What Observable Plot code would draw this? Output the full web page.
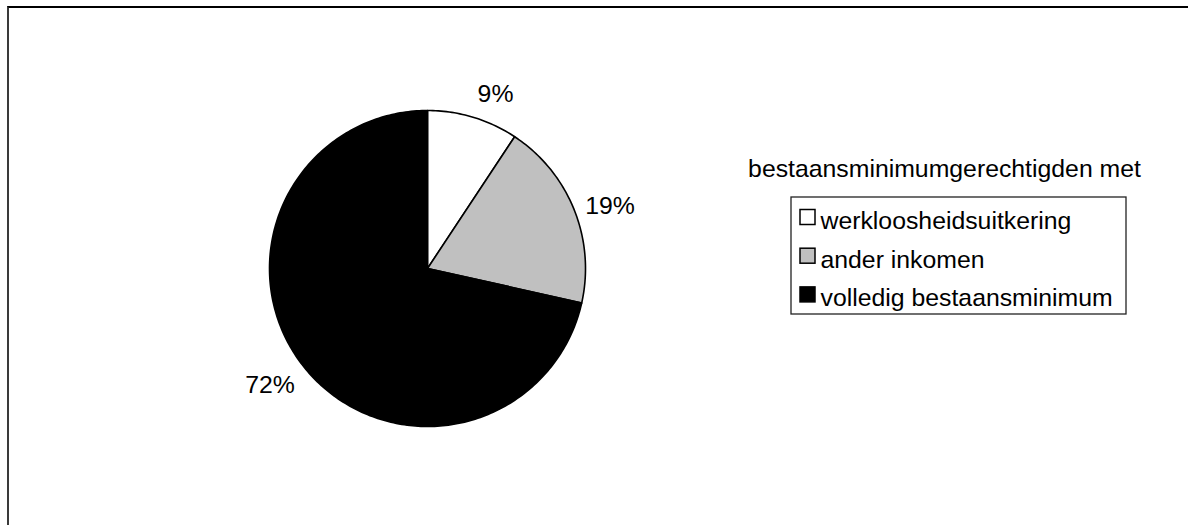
<!DOCTYPE html>
<html><head><meta charset="utf-8">
<script src="https://cdn.jsdelivr.net/npm/d3@7"></script>
<script src="https://cdn.jsdelivr.net/npm/@observablehq/plot@0.6"></script>
<style>
html,body{margin:0;padding:0;background:#fff;}
#chart{position:relative;width:1188px;height:525px;overflow:hidden;}
#chart svg{position:absolute;left:0;top:0;overflow:visible;}
#frame{position:absolute;left:7px;top:6px;right:-10px;bottom:-10px;border-top:2px solid #000;border-left:2px solid #3a3a3a;pointer-events:none;}
</style></head><body>
<div id="chart"><div id="frame"></div></div>
<script>
// ---- data ----
const categories = ["werkloosheidsuitkering", "ander inkomen", "volledig bestaansminimum"];
const shares = [9.3, 19.2, 71.5];
const shareLabels = ["9%", "19%", "72%"];
const sliceColors = ["#ffffff", "#c0c0c0", "#000000"];
const legendTitle = "bestaansminimumgerechtigden met";

// ---- layout ----
const W = 1188, H = 525;
const FONT = '"Liberation Sans", Arial, Helvetica, sans-serif';
const FS = 24.8;
const CX = 427, CY = 268, R = 158;

const rows = categories.map((c, i) => ({cat: c, share: shares[i], label: shareLabels[i], row: i}));
const arcs = d3.pie().sort(null).value(d => d.share)(rows);

// slice outlines (geometry sampled along each arc)
const slicePts = [];
arcs.forEach(p => {
  slicePts.push({cat: p.data.cat, x: CX, y: CY});
  const n = Math.max(2, Math.ceil((p.endAngle - p.startAngle) / (Math.PI / 180)));
  for (let k = 0; k <= n; k++) {
    const a = p.startAngle + (p.endAngle - p.startAngle) * k / n;
    slicePts.push({cat: p.data.cat, x: CX + R * Math.sin(a), y: CY - R * Math.cos(a)});
  }
});

// label positions (outside end, anchored by direction)
const ctx = document.createElement("canvas").getContext("2d");
ctx.font = `${FS}px ${FONT}`;
const capH = 0.716 * FS;
const labelData = arcs.map(p => {
  const a = (p.startAngle + p.endAngle) / 2;
  const s = Math.sin(a), c = Math.cos(a);
  const gap = c > 0.5 ? 16 : 12;
  const px = CX + (R + gap) * s, py = CY - (R + gap) * c;
  const w = ctx.measureText(p.data.label).width;
  const dx = s > 0.2 ? w / 2 : s < -0.2 ? -w / 2 : 0;
  const dy = c > 0.5 ? -capH / 2 : c < -0.5 ? capH / 2 : 0;
  return {text: p.data.label, x: px + dx, y: py + dy + 1};
});

// legend geometry
const LG = {boxX1: 791, boxX2: 1126, boxY1: 197, boxY2: 314, swX: 800, swS: 15, swY0: 209.5, step: 38.7, textX: 820, textY0: 220.5, titleX: 944, titleY: 169};

const plot = Plot.plot({
  width: W, height: H, margin: 0,
  x: {domain: [0, W], range: [0, W], axis: null},
  y: {domain: [0, H], range: [0, H], axis: null},
  color: {type: "ordinal", domain: categories, range: sliceColors},
  style: {fontFamily: FONT, fontSize: FS + "px", background: "transparent", color: "#000"},
  marks: [
    Plot.line(slicePts, {x: "x", y: "y", z: "cat", fill: "cat", stroke: "#000", strokeWidth: 1.6, strokeLinejoin: "round", curve: "linear-closed"}),
    Plot.text(labelData, {x: "x", y: "y", text: "text", fill: "#000", fontSize: FS}),
    Plot.text([legendTitle], {x: () => LG.titleX, y: () => LG.titleY, text: d => d, fill: "#000", fontSize: FS}),
    Plot.rect([0], {x1: () => LG.boxX1, x2: () => LG.boxX2, y1: () => LG.boxY1, y2: () => LG.boxY2, fill: "none", stroke: "#222", strokeWidth: 1.3}),
    Plot.rect(rows, {x1: () => LG.swX, x2: () => LG.swX + LG.swS, y1: d => LG.swY0 + d.row * LG.step, y2: d => LG.swY0 + d.row * LG.step + LG.swS, fill: "cat", stroke: "#000", strokeWidth: 1.5}),
    Plot.text(rows, {x: () => LG.textX, y: d => LG.textY0 + d.row * LG.step, text: "cat", textAnchor: "start", fill: "#000", fontSize: FS})
  ]
});
document.getElementById("chart").insertBefore(plot, document.getElementById("frame"));
</script>
</body></html>
